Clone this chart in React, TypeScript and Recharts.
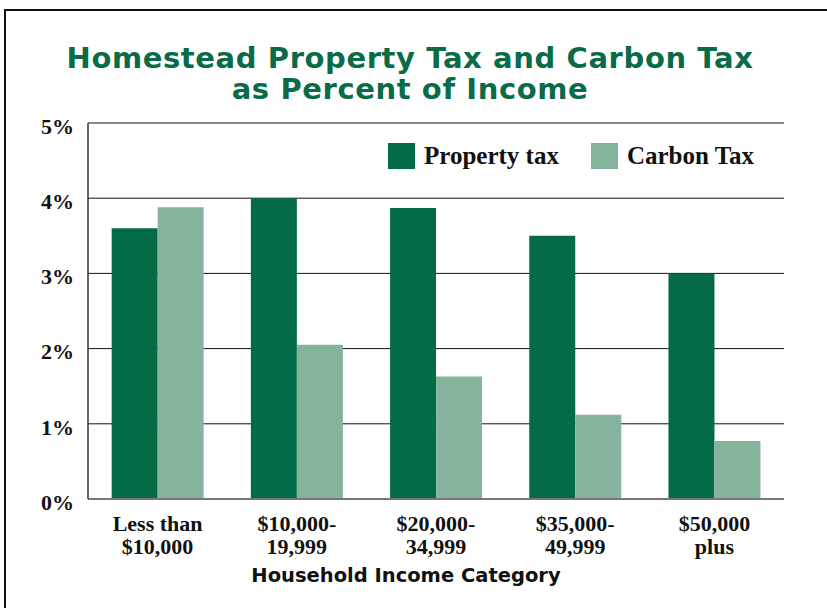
import React from 'react';
import {
  BarChart,
  Bar,
  XAxis,
  YAxis,
  CartesianGrid,
} from 'recharts';

const categories = ['Less than\n$10,000', '$10,000-\n19,999', '$20,000-\n34,999', '$35,000-\n49,999', '$50,000\nplus'];
const propertyTax = [3.6, 4.0, 3.87, 3.5, 3.0];
const carbonTax = [3.88, 2.05, 1.63, 1.12, 0.77];
const yTicks = [0, 1, 2, 3, 4, 5];

const DARK = '#046b47';
const LIGHT = '#86b39c';
const SERIF = '"Liberation Serif", "DejaVu Serif", serif';
const SANS = '"DejaVu Sans", "Noto Sans", sans-serif';

const data = categories.map((name, i) => ({
  name,
  property: propertyTax[i],
  carbon: carbonTax[i],
}));

function CategoryTick(props: any) {
  const { x, y, payload } = props;
  const lines = String(payload.value).split('\n');
  return (
    <g transform={`translate(${x},${y})`}>
      {lines.map((line, i) => (
        <text
          key={i}
          x={0}
          y={24 + i * 23}
          textAnchor="middle"
          fontFamily={SERIF}
          fontWeight="bold"
          fontSize={22}
          fill="#111"
        >
          {line}
        </text>
      ))}
    </g>
  );
}

function LegendBox() {
  const item = (color: string, label: string, gap: number) => (
    <div style={{ display: 'flex', alignItems: 'center', marginRight: gap }}>
      <div style={{ width: 27, height: 26, background: color, marginRight: 9 }} />
      <span style={{ fontFamily: SERIF, fontWeight: 'bold', fontSize: 25, color: '#111' }}>{label}</span>
    </div>
  );
  return (
    <div style={{ position: 'absolute', left: 388, top: 142, display: 'flex' }}>
      {item(DARK, 'Property tax', 32)}
      {item(LIGHT, 'Carbon Tax', 0)}
    </div>
  );
}

export default function App() {
  return (
    <div style={{ position: 'absolute', left: 0, top: 0, width: 827, height: 608, background: '#fff', overflow: 'hidden' }}>
      <div
        style={{
          position: 'absolute',
          left: 4,
          top: 9,
          width: 823,
          height: 599,
          borderTop: '2px solid #111',
          borderLeft: '2px solid #111',
        }}
      />
      <div
        style={{
          position: 'absolute',
          left: 0,
          top: 43,
          width: 820,
          textAlign: 'center',
          fontFamily: SANS,
          fontWeight: 'bold',
          fontSize: 29,
          letterSpacing: 0.6,
          lineHeight: '31px',
          color: '#0a6b47',
        }}
      >
        Homestead Property Tax and Carbon Tax
        <br />
        as Percent of Income
      </div>
      <div style={{ position: 'absolute', left: 0, top: 0 }}>
        <BarChart
          width={827}
          height={608}
          data={data}
          margin={{ top: 123, right: 43, bottom: 49, left: 8 }}
          barCategoryGap="17%"
          barGap={0}
        >
          <CartesianGrid vertical={false} stroke="#111" strokeWidth={1} />
          <XAxis
            dataKey="name"
            interval={0}
            tickLine={false}
            axisLine={{ stroke: '#777', strokeWidth: 2 }}
            tick={<CategoryTick />}
            height={60}
          />
          <YAxis
            domain={[0, 5]}
            ticks={yTicks}
            width={80}
            tickLine={false}
            axisLine={{ stroke: '#333', strokeWidth: 1.5 }}
            tickFormatter={(v: number) => `${v}%`}
            tick={{ fontFamily: SERIF, fontWeight: 'bold', fontSize: 22, fill: '#111', dy: 3 }}
            tickMargin={8}
          />
          <YAxis
            yAxisId="frame"
            orientation="right"
            domain={[0, 5]}
            width={0}
            tick={false}
            tickLine={false}
            axisLine={{ stroke: '#666', strokeWidth: 2 }}
          />
          <Bar dataKey="property" name="Property tax" fill={DARK} isAnimationActive={false} />
          <Bar dataKey="carbon" name="Carbon Tax" fill={LIGHT} isAnimationActive={false} />
        </BarChart>
      </div>
      <LegendBox />
      <div
        style={{
          position: 'absolute',
          left: 0,
          top: 564,
          width: 812,
          textAlign: 'center',
          fontFamily: SANS,
          fontWeight: 'bold',
          fontSize: 19.5,
          color: '#111',
        }}
      >
        Household Income Category
      </div>
    </div>
  );
}
